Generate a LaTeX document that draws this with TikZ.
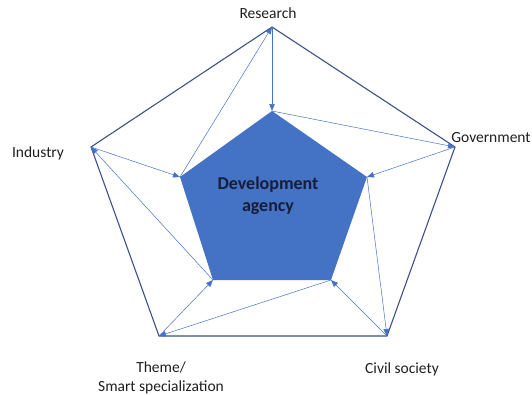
\documentclass[tikz,border=0pt]{standalone}
\usepackage{fontspec}
\setmainfont{Carlito}
\usepackage{tikz}
\usetikzlibrary{arrows.meta}
\definecolor{agencyblue}{RGB}{68,114,196}
\definecolor{rimblue}{RGB}{62,80,134}
\definecolor{agencytext}{RGB}{22,30,58}

\begin{document}
\begin{tikzpicture}[x=1pt, y=-1pt,
    flow/.style={draw=agencyblue, line width=0.5pt, -{Triangle[length=7pt, width=5.5pt]}},
    actor/.style={font=\fontsize{15.5}{19}\selectfont, text=black!88, inner sep=0, align=center}]
        \useasboundingbox (0,0) rectangle (532,394);

        % outer ring, then the agency in the middle
        \foreach \c/\x/\y in {0/272/27, 1/455/147, 2/387/336, 3/159/336, 4/91/147} {
          \coordinate (o\c) at (\x,\y);
        }
        \foreach \c/\x/\y in {0/272/111, 1/367/177, 2/331/280, 3/213/280, 4/180/177} {
          \coordinate (i\c) at (\x,\y);
        }

        \fill [agencyblue] (i0) -- (i1) -- (i2) -- (i3) -- (i4) -- cycle;
        \draw [rimblue, line width=1.1pt] (o0) -- (o1) -- (o2) -- (o3) -- (o4) -- cycle;

        \foreach \c [evaluate=\c as \n using {int(mod(\c+1,5))}] in {0, 1, 2, 3, 4} {
          \draw [flow] (o\c) -- (i\c);
          \draw [flow] (i\c) -- (o\n);
        }

        \node [actor] (research) at (268,13) {Research};
        \node [actor] (government) at (491,138) {Government};
        \node [actor] (civil) at (402,369) {Civil society};
        \node [actor] (theme) at (161,378) {Theme/\\Smart specialization};
        \node [actor] (industry) at (38,153) {Industry};
        \node [font=\bfseries\fontsize{18}{22}\selectfont, text=agencytext, align=center, inner sep=0] (agency) at (268,196) {Development\\agency};
      \end{tikzpicture}
\end{document}
